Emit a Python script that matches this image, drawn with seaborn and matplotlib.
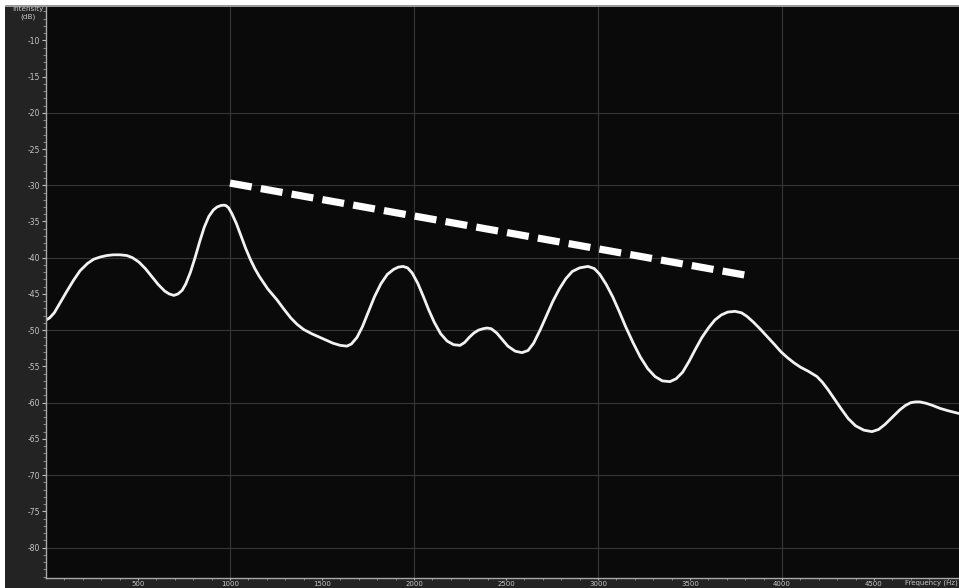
import numpy as np
import pandas as pd
import matplotlib
matplotlib.use("Agg")
import matplotlib.pyplot as plt
import seaborn as sns

# Spectrum slice: frequency (Hz) vs intensity (dB), ten points per row
freq_hz = [
    0, 20, 45, 75, 114, 150, 185, 225, 260, 295,
    330, 365, 402, 440, 470, 505, 540, 575, 610, 645,
    670, 695, 717, 740, 760, 785, 810, 835, 860, 885,
    910, 930, 950, 965, 978, 992, 1010, 1035, 1060, 1085,
    1110, 1135, 1160, 1205, 1255, 1290, 1330, 1365, 1400, 1445,
    1489, 1525, 1560, 1600, 1636, 1660, 1690, 1720, 1750, 1785,
    1820, 1855, 1890, 1915, 1940, 1965, 1990, 2020, 2050, 2080,
    2110, 2145, 2180, 2215, 2250, 2275, 2300, 2325, 2350, 2375,
    2397, 2420, 2450, 2480, 2510, 2550, 2587, 2620, 2650, 2685,
    2720, 2755, 2790, 2825, 2860, 2900, 2946, 2980, 3010, 3045,
    3080, 3115, 3150, 3190, 3230, 3270, 3310, 3350, 3391, 3425,
    3460, 3495, 3530, 3565, 3600, 3635, 3670, 3705, 3745, 3780,
    3810, 3845, 3880, 3920, 3960, 3995, 4030, 4065, 4100, 4145,
    4190, 4220, 4250, 4285, 4320, 4360, 4400, 4445, 4489, 4525,
    4560, 4600, 4640, 4670, 4700, 4725, 4750, 4785, 4820, 4860,
    4900, 4930, 4962,
]
intensity_db = [
    -48.6, -48.3, -47.6, -46.3, -44.6, -43.1, -41.8, -40.8, -40.2, -39.9,
    -39.7, -39.6, -39.6, -39.7, -40.0, -40.6, -41.5, -42.6, -43.7, -44.6,
    -45.0, -45.2, -45.0, -44.5, -43.6, -42.0, -40.0, -37.8, -35.8, -34.3,
    -33.4, -33.0, -32.8, -32.75, -32.8, -33.1, -33.9, -35.3, -37.0, -38.7,
    -40.2, -41.5, -42.6, -44.3, -45.8, -47.0, -48.3, -49.2, -49.9, -50.5,
    -51.0, -51.4, -51.8, -52.1, -52.2, -51.9, -51.0, -49.5, -47.6, -45.4,
    -43.6, -42.3, -41.6, -41.3, -41.2, -41.4, -42.1, -43.5, -45.3, -47.2,
    -48.9, -50.5, -51.5, -52.0, -52.1, -51.7, -51.0, -50.4, -50.0, -49.8,
    -49.7, -49.8, -50.4, -51.3, -52.2, -52.9, -53.1, -52.8, -51.8, -50.0,
    -48.0, -46.0, -44.3, -42.9, -41.9, -41.4, -41.2, -41.5, -42.3, -43.7,
    -45.4, -47.4, -49.5, -51.7, -53.7, -55.3, -56.4, -57.0, -57.1, -56.7,
    -55.8, -54.3, -52.6, -51.0, -49.7, -48.6, -47.9, -47.5, -47.4, -47.6,
    -48.1, -48.9, -49.8, -50.9, -52.0, -53.0, -53.8, -54.5, -55.1, -55.7,
    -56.4, -57.2, -58.2, -59.5, -60.8, -62.2, -63.2, -63.8, -64.0, -63.7,
    -63.0, -62.0, -61.0, -60.4, -60.0, -59.9, -59.9, -60.1, -60.4, -60.8,
    -61.1, -61.3, -61.5,
]

# Declining trend over the formant peaks
trend_hz = [1000, 3800]
trend_db = [-29.7, -42.4]

y_ticks = list(range(-80, -5, 5))
x_ticks = [500, 1000, 1500, 2000, 2500, 3000, 3500, 4000, 4500]

sns.set_style("dark")
plt.rcParams["font.family"] = ["DejaVu Sans"]

fig = plt.figure(figsize=(9.59, 5.88), dpi=100, facecolor="white")
# dark panel frame behind the plot
fig.patches.append(plt.Rectangle((5 / 959, 0), 1, 582 / 588, transform=fig.transFigure,
                                 facecolor="#232323", edgecolor="none", zorder=-10))
fig.patches.append(plt.Rectangle((5 / 959, 581 / 588), 1, 2 / 588, transform=fig.transFigure,
                                 facecolor="#9a9a9a", edgecolor="none", zorder=-10))

ax = fig.add_axes([46 / 959, 10 / 588, 913 / 959, 571 / 588])
ax.set_zorder(1)
ax.set_facecolor("#0a0a0a")

df = pd.DataFrame({"freq": freq_hz, "db": intensity_db})
tr = pd.DataFrame({"freq": trend_hz, "db": trend_db})

sns.lineplot(data=df, x="freq", y="db", ax=ax, color="#f2f2f2", linewidth=2.0,
             sort=False, estimator=None)
ax.lines[-1].set_solid_joinstyle("round")
sns.lineplot(data=tr, x="freq", y="db", ax=ax, color="white", linewidth=5.2,
             estimator=None)
ax.lines[-1].set_dashes([3.05, 1.28])
ax.lines[-1].set_dash_capstyle("butt")

ax.set_xlim(0, 4962)
ax.set_ylim(-84.2, -5.4)

# grid every 1000 Hz and every 10 dB
for gx in [1000, 2000, 3000, 4000]:
    ax.axvline(gx, color="#363636", linewidth=0.8, zorder=0)
for gy in range(-80, -10, 10):
    ax.axhline(gy, color="#363636", linewidth=0.8, zorder=0)
ax.grid(False)

ax.set_yticks(y_ticks)
ax.set_yticklabels([str(v) for v in y_ticks])
ax.set_yticks(list(range(-84, -5, 1)), minor=True)
ax.set_xticks(x_ticks)
ax.set_xticklabels([str(v) for v in x_ticks])
ax.set_xticks(list(range(100, 4962, 100)), minor=True)

ax.tick_params(axis="y", which="major", colors="#bdbdbd", labelsize=5.5, length=3,
               width=0.8, pad=1.5, direction="out", left=True)
ax.tick_params(axis="x", which="major", colors="#bdbdbd", labelsize=5.0, length=1.5,
               width=0.8, pad=0.3, direction="out", bottom=True)
ax.tick_params(axis="both", which="minor", colors="#9a9a9a", length=2, width=0.6,
               direction="out", left=True, bottom=True)
ax.tick_params(axis="x", which="minor", length=1.2)
for lab in ax.get_xticklabels() + ax.get_yticklabels():
    lab.set_color("#c8c8c8")

for side in ["top", "right"]:
    ax.spines[side].set_visible(False)
for side in ["left", "bottom"]:
    ax.spines[side].set_visible(True)
    ax.spines[side].set_color("#a8a8a8")
    ax.spines[side].set_linewidth(1.0)

ax.set_xlabel("")
ax.set_ylabel("")

fig.text(28 / 959, 1 - 13 / 588, "Intensity\n(dB)", ha="center", va="center",
         fontsize=5.2, color="#c8c8c8", linespacing=1.1)
fig.text(905 / 959, 1.5 / 588, "Frequency (Hz)", ha="left", va="bottom",
         fontsize=5.0, color="#c8c8c8")

fig.savefig("out.png", dpi=100, facecolor="white")
